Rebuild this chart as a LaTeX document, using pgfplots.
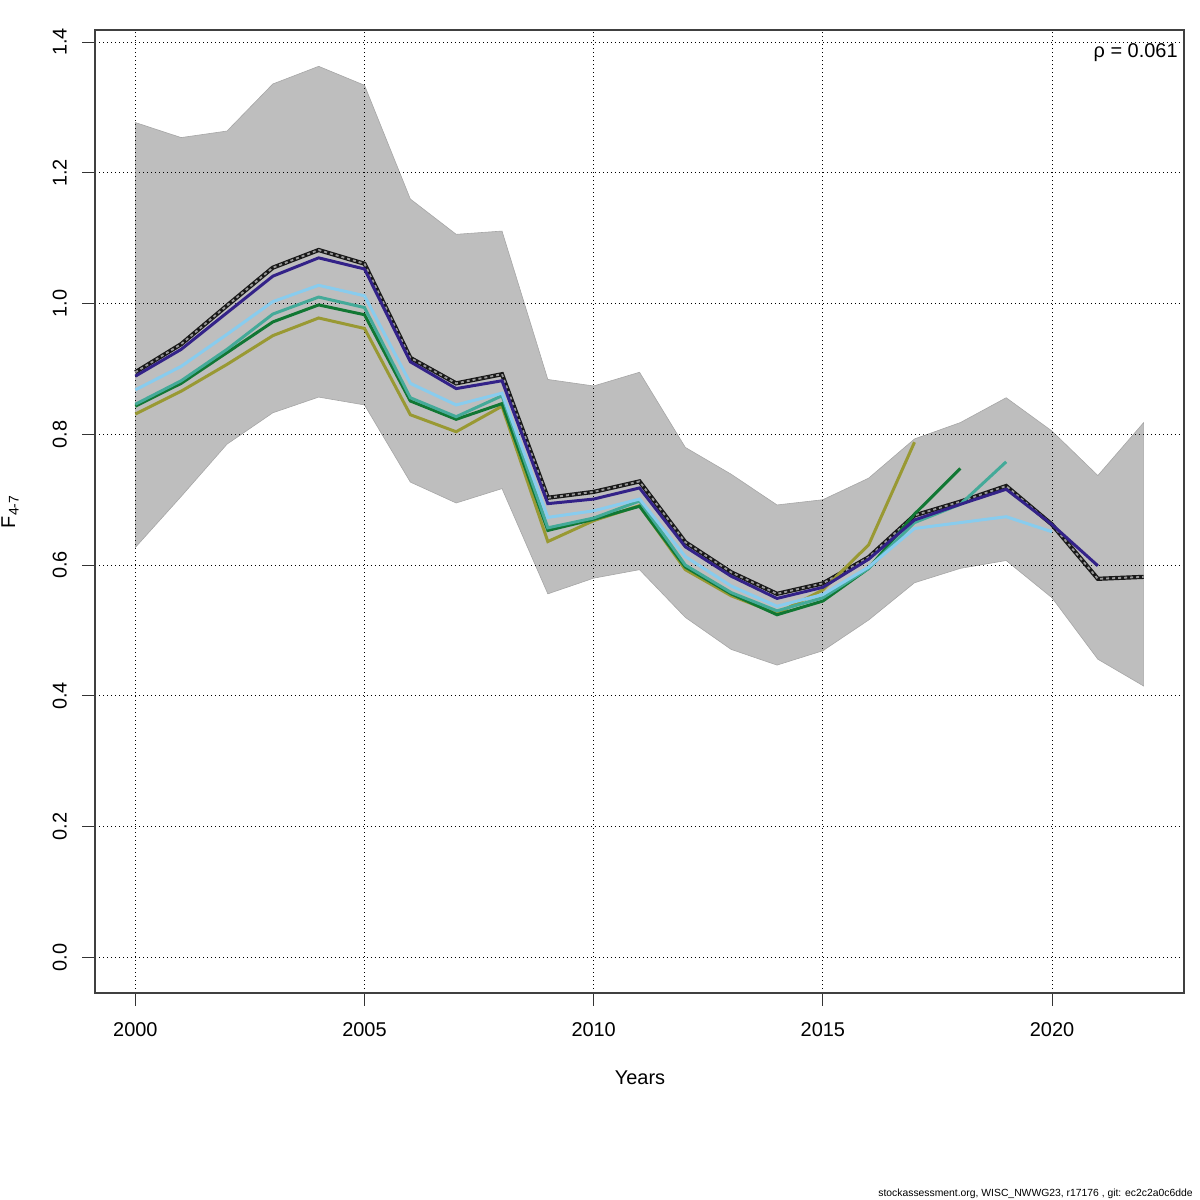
\documentclass[border=0pt]{standalone}
\usepackage{pgfplots}
\pgfplotsset{compat=1.18}
\usepackage{fontspec}
\setmainfont{Liberation Sans}
\definecolor{cnavy}{HTML}{332288}
\definecolor{clblue}{HTML}{88CCEE}
\definecolor{cteal}{HTML}{44AA99}
\definecolor{cgreen}{HTML}{117733}
\definecolor{colive}{HTML}{999933}
\definecolor{cband}{HTML}{BEBEBE}
\begin{document}
\begin{tikzpicture}
\begin{axis}[
  set layers,
  at={(47.5bp,103.5bp)}, anchor=south west,
  width=544.5bp, height=481.5bp, scale only axis,
  xmin=1999.12, xmax=2022.88, ymin=-0.0546, ymax=1.4186,
  xtick={2000,2005,2010,2015,2020},
  ytick={0,0.2,0.4,0.6,0.8,1.0,1.2,1.4},
  xtick pos=bottom, ytick pos=left,
  tick align=outside, major tick length=6.3bp,
  axis line style={black!75, line width=0.8bp},
  tick style={black!80, line width=0.5bp},
  grid=major,
  major grid style={black, line width=0.4bp, dash pattern=on 0.5bp off 1.5bp},
  /pgf/number format/assume math mode=true,
  ticklabel style={font=\fontsize{10}{12}\selectfont},
  x tick label style={/pgf/number format/1000 sep={}, anchor=base, yshift=-15.4bp},
  y tick label style={/pgf/number format/fixed, /pgf/number format/fixed zerofill, /pgf/number format/precision=1, rotate=90, anchor=base, yshift=7.9bp},
]
% confidence band: upper 2000-2022, then lower 2022-2000
\addplot[on layer=axis background, fill=cband, draw=black!35, line width=0.3bp] coordinates {
(2000,1.277) (2001,1.254) (2002,1.264) (2003,1.336) (2004,1.363) (2005,1.334)
(2006,1.160) (2007,1.106) (2008,1.111) (2009,0.884) (2010,0.874) (2011,0.895)
(2012,0.780) (2013,0.739) (2014,0.692) (2015,0.700) (2016,0.733) (2017,0.793)
(2018,0.818) (2019,0.856) (2020,0.805) (2021,0.737) (2022,0.818)
(2022,0.415) (2021,0.456) (2020,0.550) (2019,0.607) (2018,0.595) (2017,0.573)
(2016,0.516) (2015,0.469) (2014,0.447) (2013,0.471) (2012,0.520) (2011,0.593)
(2010,0.580) (2009,0.556) (2008,0.717) (2007,0.695) (2006,0.727) (2005,0.845)
(2004,0.857) (2003,0.833) (2002,0.785) (2001,0.705) (2000,0.627)
} -- cycle;
% base run
\addplot[black!90, line width=2.1bp] coordinates {
(2000,0.895) (2001,0.938) (2002,0.997) (2003,1.055) (2004,1.082) (2005,1.061)
(2006,0.917) (2007,0.878) (2008,0.892) (2009,0.703) (2010,0.712) (2011,0.728)
(2012,0.635) (2013,0.589) (2014,0.556) (2015,0.572) (2016,0.612) (2017,0.676)
(2018,0.697) (2019,0.721) (2020,0.662) (2021,0.579) (2022,0.582)
};
\addplot[black!40, line width=0.9bp, dash pattern=on 1.5bp off 1.5bp] coordinates {
(2000,0.895) (2001,0.938) (2002,0.997) (2003,1.055) (2004,1.082) (2005,1.061)
(2006,0.917) (2007,0.878) (2008,0.892) (2009,0.703) (2010,0.712) (2011,0.728)
(2012,0.635) (2013,0.589) (2014,0.556) (2015,0.572) (2016,0.612) (2017,0.676)
(2018,0.697) (2019,0.721) (2020,0.662) (2021,0.579) (2022,0.582)
};
% peel 5 (to 2017)
\addplot[colive, line width=1.5bp] coordinates {
(2000,0.831) (2001,0.866) (2002,0.907) (2003,0.951) (2004,0.978) (2005,0.962)
(2006,0.830) (2007,0.804) (2008,0.843) (2009,0.636) (2010,0.668) (2011,0.691)
(2012,0.593) (2013,0.553) (2014,0.526) (2015,0.562) (2016,0.631) (2017,0.788)
};
% peel 4 (to 2018)
\addplot[cgreen, line width=1.5bp] coordinates {
(2000,0.843) (2001,0.878) (2002,0.925) (2003,0.972) (2004,0.998) (2005,0.983)
(2006,0.851) (2007,0.823) (2008,0.847) (2009,0.653) (2010,0.670) (2011,0.690)
(2012,0.597) (2013,0.556) (2014,0.524) (2015,0.545) (2016,0.595) (2017,0.678)
(2018,0.748)
};
% peel 3 (to 2019)
\addplot[cteal, line width=1.5bp] coordinates {
(2000,0.846) (2001,0.882) (2002,0.930) (2003,0.984) (2004,1.010) (2005,0.994)
(2006,0.856) (2007,0.827) (2008,0.859) (2009,0.657) (2010,0.672) (2011,0.698)
(2012,0.600) (2013,0.558) (2014,0.530) (2015,0.550) (2016,0.595) (2017,0.665)
(2018,0.693) (2019,0.758)
};
% peel 2 (to 2020)
\addplot[clblue, line width=1.5bp] coordinates {
(2000,0.868) (2001,0.904) (2002,0.953) (2003,1.003) (2004,1.028) (2005,1.012)
(2006,0.878) (2007,0.845) (2008,0.863) (2009,0.673) (2010,0.683) (2011,0.701)
(2012,0.613) (2013,0.568) (2014,0.537) (2015,0.555) (2016,0.597) (2017,0.656)
(2018,0.665) (2019,0.674) (2020,0.651)
};
% peel 1 (to 2021)
\addplot[cnavy, line width=1.5bp] coordinates {
(2000,0.889) (2001,0.930) (2002,0.986) (2003,1.042) (2004,1.070) (2005,1.053)
(2006,0.911) (2007,0.870) (2008,0.882) (2009,0.694) (2010,0.701) (2011,0.718)
(2012,0.628) (2013,0.583) (2014,0.549) (2015,0.566) (2016,0.609) (2017,0.669)
(2018,0.693) (2019,0.716) (2020,0.662) (2021,0.599)
};
\end{axis}
\node[rotate=90, anchor=base, font=\fontsize{10}{12}\selectfont] at (7.5bp,344bp) {F\raisebox{-0.35ex}{\fontsize{7}{8}\selectfont 4-7}};
\node[anchor=base, font=\fontsize{10}{12}\selectfont] at (320bp,57.5bp) {Years};
\node[anchor=base east, font=\fontsize{10}{12}\selectfont, inner sep=0pt] at (589bp,571bp) {ρ = 0.061};
\node[anchor=base east, font=\fontsize{5.2}{6}\selectfont, inner sep=0pt] at (596.5bp,2bp) {stockassessment.org, WISC\_NWWG23, r17176 , git: ec2c2a0c6dde};
\pgfresetboundingbox
\path[use as bounding box] (0,0) rectangle (600bp,600bp);
\end{tikzpicture}
\end{document}
